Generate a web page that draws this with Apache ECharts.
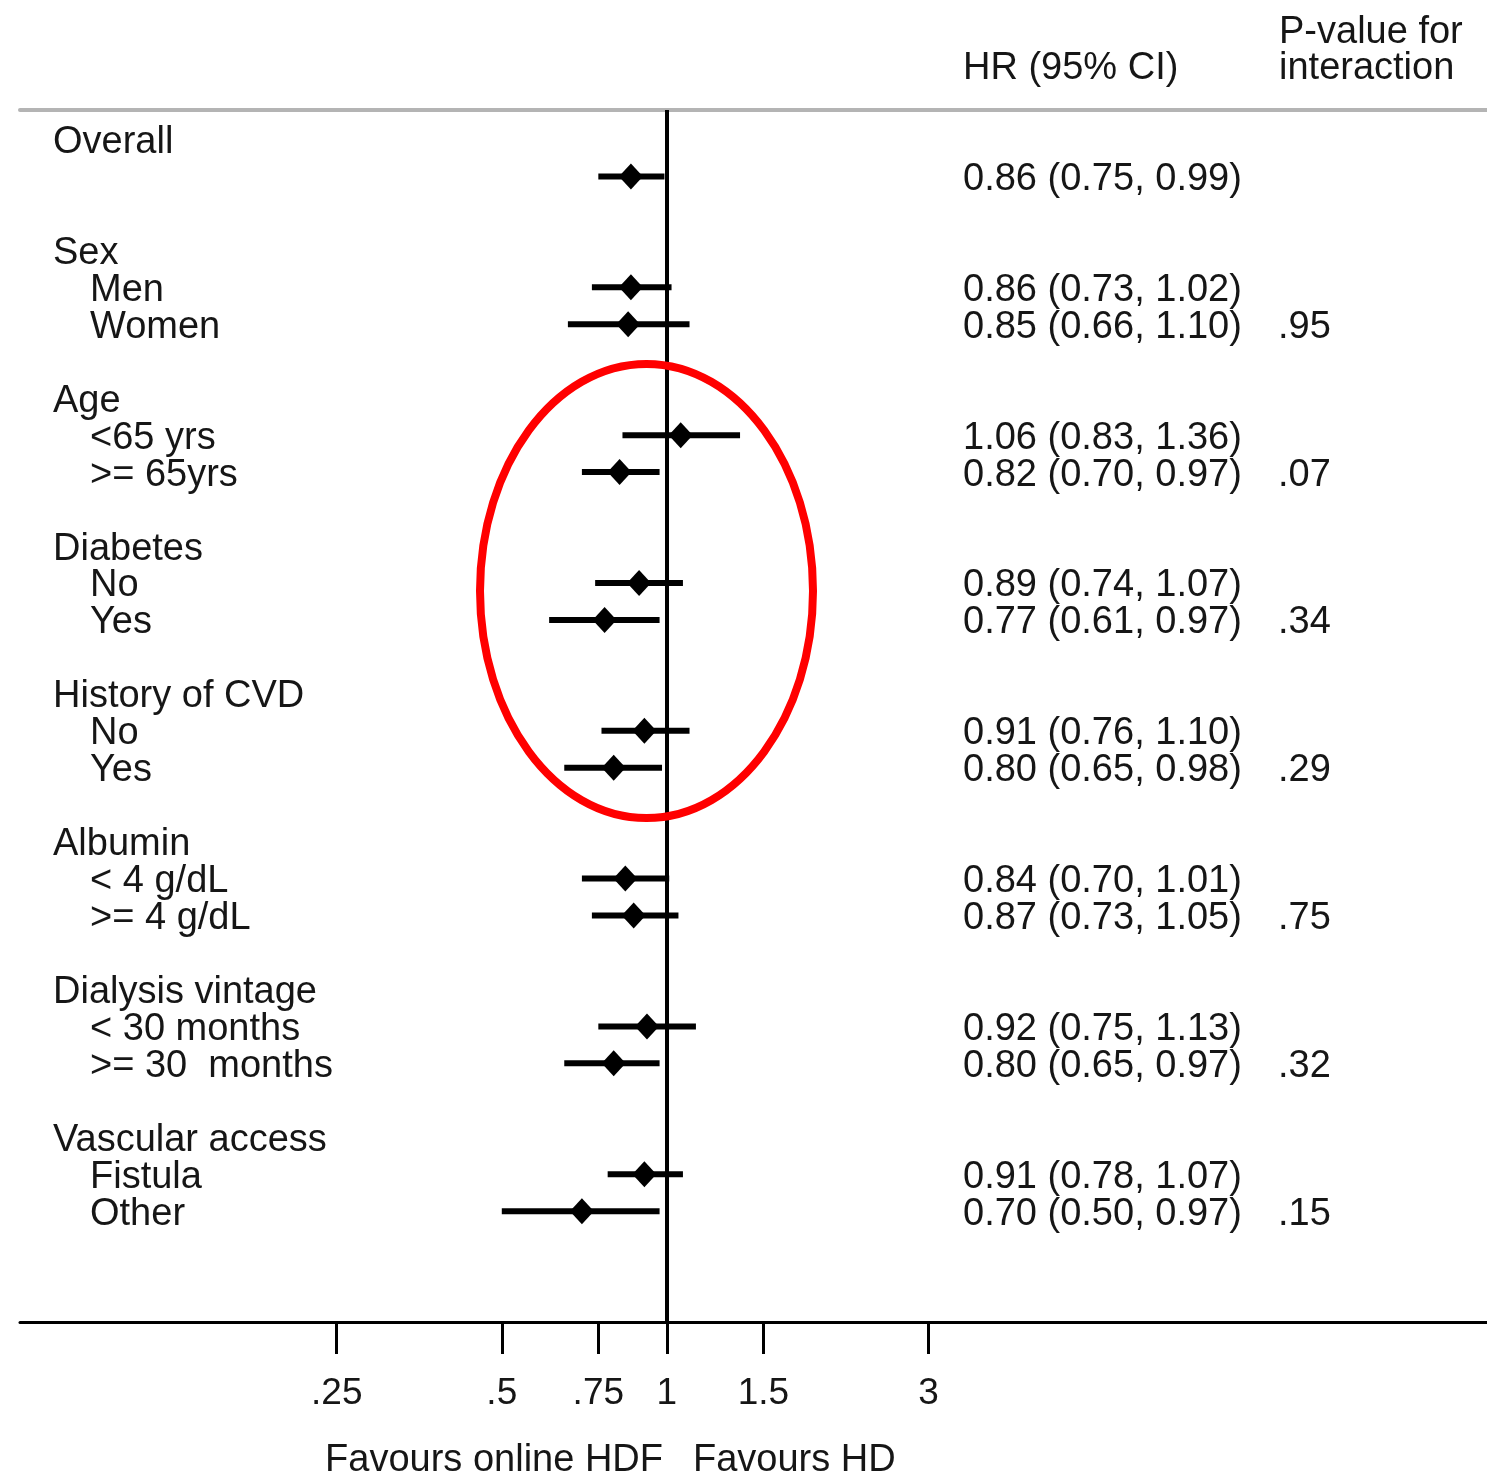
<!DOCTYPE html>
<html>
<head>
<meta charset="utf-8">
<title>Subgroup hazard ratios: online HDF vs HD</title>
<script src="https://cdn.jsdelivr.net/npm/echarts@6/dist/echarts.min.js"></script>
<style>
  html, body { margin: 0; padding: 0; background: #ffffff; }
  #chart { width: 1487px; height: 1476px; }
</style>
</head>
<body>
<div id="chart"></div>
<script>
// Subgroup headings and the interaction p-value shown on each group's last row
const groups = ['Overall', 'Sex', 'Age', 'Diabetes', 'History of CVD', 'Albumin', 'Dialysis vintage', 'Vascular access'];
const groupP = ['', '.95', '.07', '.34', '.29', '.75', '.32', '.15'];

// One entry per estimate row
const subgroups = ['', 'Men', 'Women', '<65 yrs', '>= 65yrs', 'No', 'Yes', 'No', 'Yes',
                   '< 4 g/dL', '>= 4 g/dL', '< 30 months', '>= 30  months', 'Fistula', 'Other'];
const subgroupGroup = [0, 1, 1, 2, 2, 3, 3, 4, 4, 5, 5, 6, 6, 7, 7];
const hr     = [0.86, 0.86, 0.85, 1.06, 0.82, 0.89, 0.77, 0.91, 0.80, 0.84, 0.87, 0.92, 0.80, 0.91, 0.70];
const ciLow  = [0.75, 0.73, 0.66, 0.83, 0.70, 0.74, 0.61, 0.76, 0.65, 0.70, 0.73, 0.75, 0.65, 0.78, 0.50];
const ciHigh = [0.99, 1.02, 1.10, 1.36, 0.97, 1.07, 0.97, 1.10, 0.98, 1.01, 1.05, 1.13, 0.97, 1.07, 0.97];

// Hazard-ratio axis ticks
const tickValues = [0.25, 0.5, 0.75, 1, 1.5, 3];
const tickLabels = ['.25', '.5', '.75', '1', '1.5', '3'];

const FONT = "'Liberation Sans', Arial, Helvetica, sans-serif";
const FS = 38;
const INK = '#161616';

// Lay out rows: heading, its estimates, then one blank spacer row
const headingRow = [];
const subRow = [];
let r = 0;
groups.forEach(function (g, gi) {
  headingRow.push(r); r++;
  subgroups.forEach(function (s, si) {
    if (subgroupGroup[si] === gi) { subRow[si] = r; r++; }
  });
  r++;
});

// Last row of each group carries the p-value
const lastRowOfGroup = {};
subgroups.forEach(function (s, si) { lastRowOfGroup[subgroupGroup[si]] = si; });

const estimateData = hr.map(function (v, i) { return [ciLow[i], ciHigh[i], v, subRow[i]]; });

// Text rows: headings, subgroup names, HR (95% CI) and p-values
const textItems = [];
groups.forEach(function (g, gi) { textItems.push({ row: headingRow[gi], text: g, col: 'heading' }); });
subgroups.forEach(function (s, si) {
  if (s) textItems.push({ row: subRow[si], text: s, col: 'sub' });
  textItems.push({
    row: subRow[si],
    text: hr[si].toFixed(2) + ' (' + ciLow[si].toFixed(2) + ', ' + ciHigh[si].toFixed(2) + ')',
    col: 'hr'
  });
  const gi = subgroupGroup[si];
  if (groupP[gi] && lastRowOfGroup[gi] === si) textItems.push({ row: subRow[si], text: groupP[gi], col: 'p' });
});
const textColumnX = { heading: 53, sub: 90, hr: 963, p: 1278 };

const X_MIN = 0.0661, X_MAX = 31.33;

const chart = echarts.init(document.getElementById('chart'), null, { renderer: 'canvas' });

chart.setOption({
  animation: false,
  backgroundColor: '#ffffff',
  grid: { left: 20, right: 0, top: 110, bottom: 154, containLabel: false, outerBoundsMode: 'none' },
  xAxis: [
    {
      type: 'log', logBase: 2, min: X_MIN, max: X_MAX, position: 'bottom',
      axisLine: { show: true, onZero: false, lineStyle: { color: '#000', width: 3 } },
      axisTick: { show: true, length: 32, inside: false, customValues: tickValues,
                  lineStyle: { color: '#000', width: 3 } },
      axisLabel: {
        show: true, customValues: tickValues, margin: 53,
        fontFamily: FONT, fontSize: 37, lineHeight: 37, color: INK,
        formatter: function (v) {
          let best = 0;
          tickValues.forEach(function (t, i) { if (Math.abs(t - v) < Math.abs(tickValues[best] - v)) best = i; });
          return tickLabels[best];
        }
      },
      splitLine: { show: false }, minorTick: { show: false }
    },
    {
      type: 'log', logBase: 2, min: X_MIN, max: X_MAX, position: 'top',
      axisLine: { show: true, onZero: false, lineStyle: { color: '#b4b4b4', width: 4 } },
      axisTick: { show: false }, axisLabel: { show: false }, splitLine: { show: false }
    }
  ],
  yAxis: {
    type: 'value', inverse: true, min: -0.8, max: 32,
    show: false, splitLine: { show: false }
  },
  series: [
    {
      name: 'Hazard ratio',
      type: 'custom',
      xAxisIndex: 0,
      data: estimateData,
      encode: { x: [0, 1, 2], y: 3 },
      renderItem: function (params, api) {
        const y = api.value(3);
        const a = api.coord([api.value(0), y]);
        const b = api.coord([api.value(1), y]);
        const c = api.coord([api.value(2), y]);
        return {
          type: 'group',
          children: [
            { type: 'line', shape: { x1: a[0], y1: a[1], x2: b[0], y2: b[1] },
              style: { stroke: '#000', lineWidth: 6, lineCap: 'butt' } },
            { type: 'polygon',
              shape: { points: [[c[0], c[1] - 13], [c[0] + 12, c[1]], [c[0], c[1] + 13], [c[0] - 12, c[1]]] },
              style: { fill: '#000' } }
          ]
        };
      },
      markLine: {
        silent: true, symbol: 'none', animation: false,
        label: { show: false },
        lineStyle: { color: '#000', width: 4, type: 'solid' },
        data: [{ xAxis: 1 }]
      },
      z: 3
    },
    {
      name: 'Row text',
      type: 'custom',
      xAxisIndex: 0,
      data: textItems.map(function (t) { return [1, t.row]; }),
      encode: { x: 0, y: 1 },
      renderItem: function (params, api) {
        const t = textItems[params.dataIndex];
        const p = api.coord([1, api.value(1)]);
        return {
          type: 'text',
          x: textColumnX[t.col], y: p[1] + 3,
          style: { text: t.text, fill: INK, fontFamily: FONT, fontSize: FS,
                   align: 'left', verticalAlign: 'middle' }
        };
      },
      z: 4
    }
  ],
  graphic: [
    { type: 'text', left: 963, top: 50,
      style: { text: 'HR (95% CI)', fill: INK, fontFamily: FONT, fontSize: FS } },
    { type: 'text', left: 1279, top: 14,
      style: { text: 'P-value for', fill: INK, fontFamily: FONT, fontSize: FS } },
    { type: 'text', left: 1279, top: 50,
      style: { text: 'interaction', fill: INK, fontFamily: FONT, fontSize: FS } },
    { type: 'text', right: 1487 - 663, top: 1442,
      style: { text: 'Favours online HDF', fill: INK, fontFamily: FONT, fontSize: FS } },
    { type: 'text', left: 693, top: 1442,
      style: { text: 'Favours HD', fill: INK, fontFamily: FONT, fontSize: FS } },
    { type: 'ellipse', z: 100,
      shape: { cx: 646.5, cy: 591, rx: 166.5, ry: 227 },
      style: { fill: null, stroke: '#ff0000', lineWidth: 8 } }
  ]
});
</script>
</body>
</html>
